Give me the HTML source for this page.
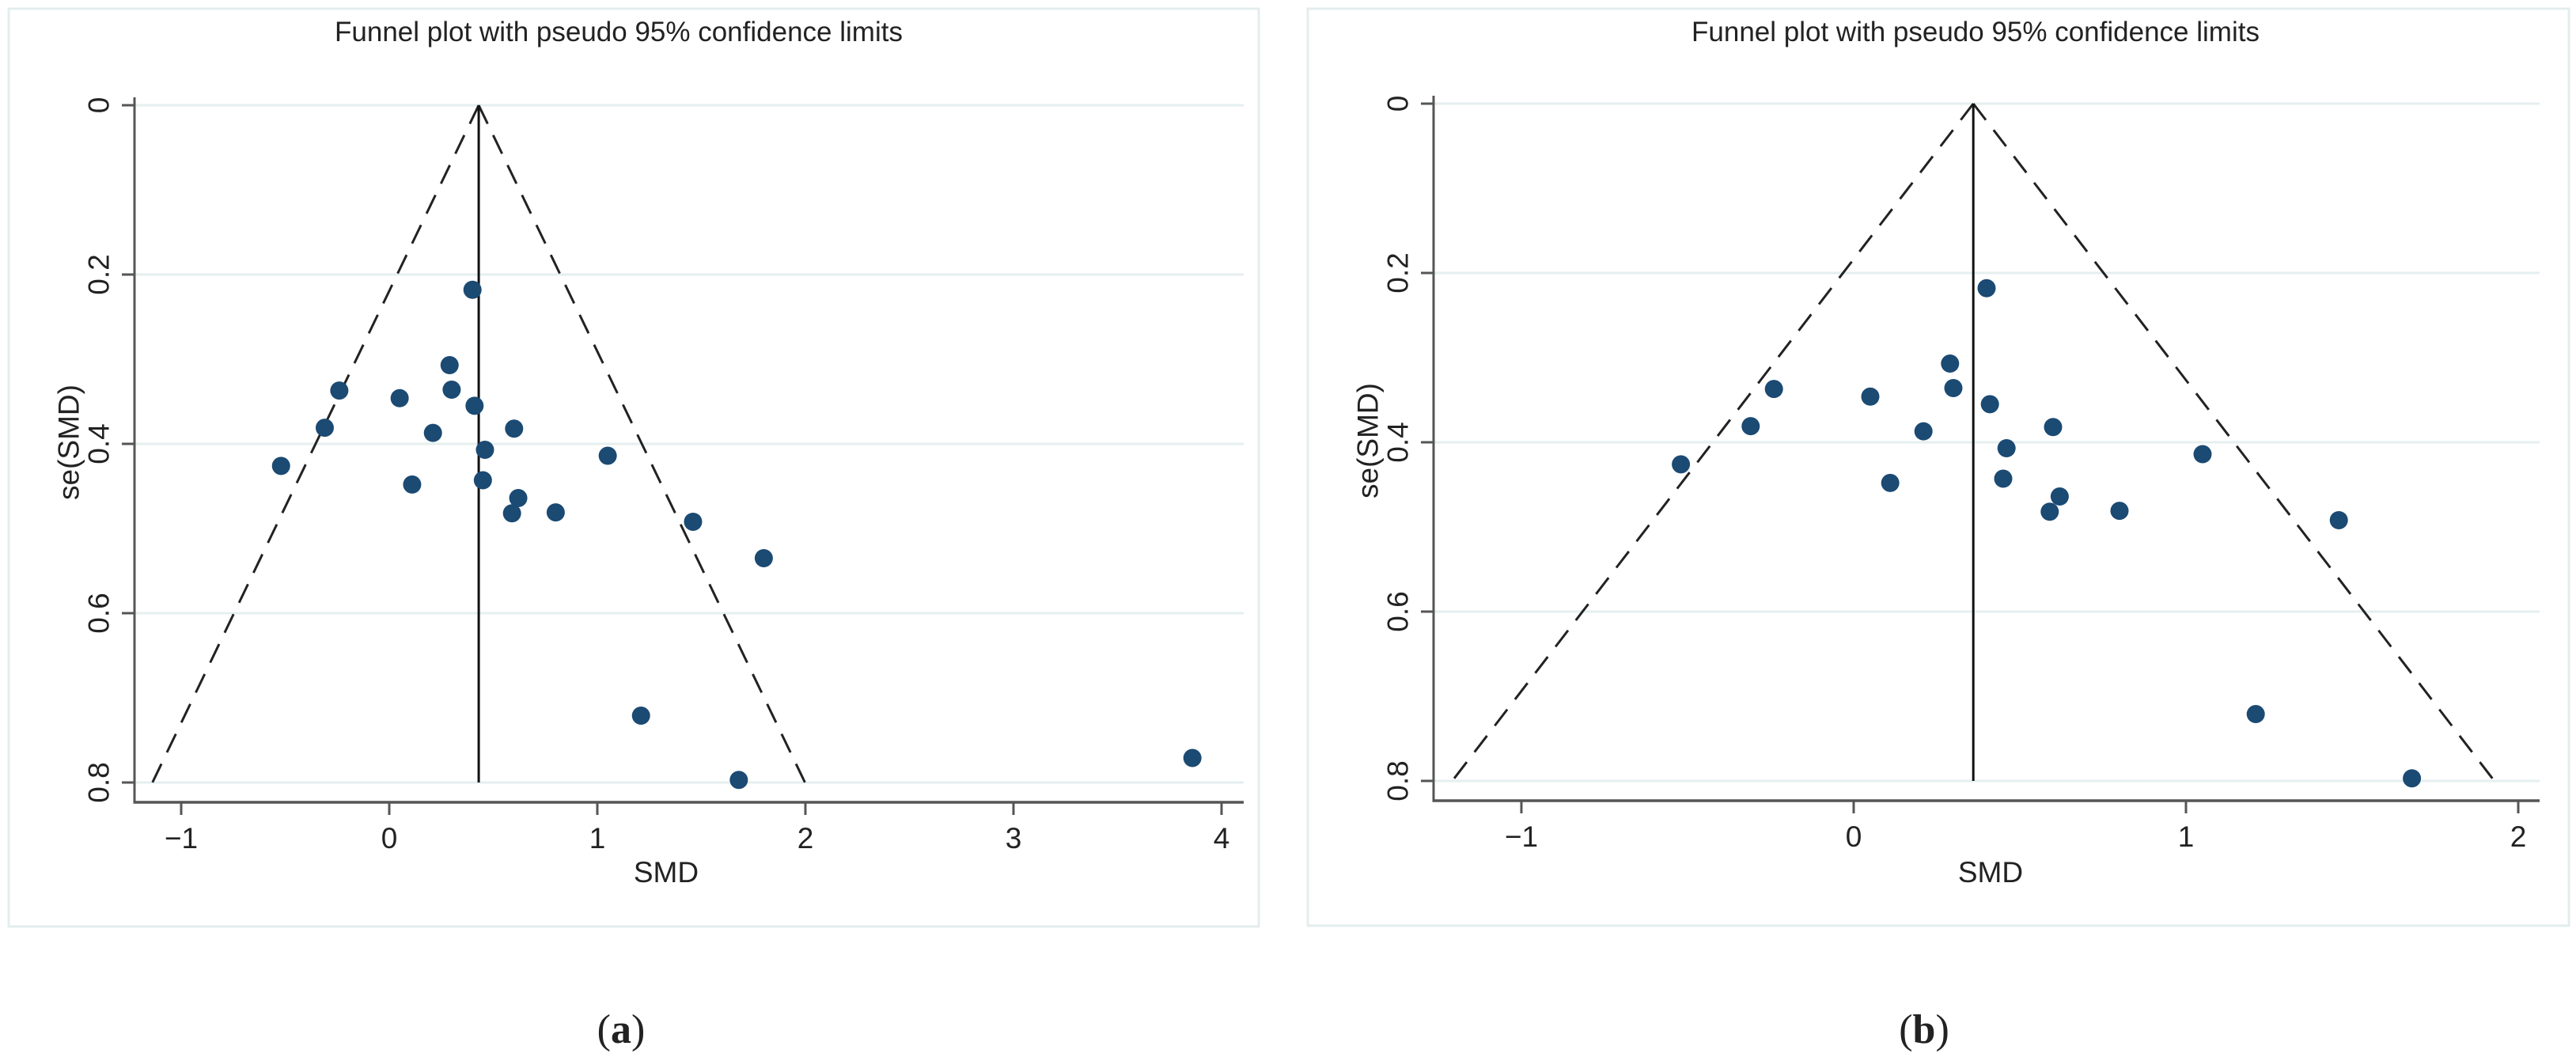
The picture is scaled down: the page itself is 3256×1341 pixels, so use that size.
<!DOCTYPE html>
<html><head><meta charset="utf-8">
<style>
html,body{margin:0;padding:0;background:#fff;}
svg{display:block;}
text{font-family:"Liberation Sans",Arial,sans-serif;fill:#222;}
</style></head>
<body>
<svg id="fig" width="3256" height="1341" viewBox="0 0 3256 1341" xmlns="http://www.w3.org/2000/svg">
<rect x="11" y="11" width="1580" height="1160" fill="none" stroke="#e3eded" stroke-width="3"/>
<rect x="1653" y="11" width="1594" height="1159" fill="none" stroke="#e3eded" stroke-width="3"/>
<text x="785" y="1318" text-anchor="middle" font-size="52" style="font-family:'Liberation Serif',serif">(<tspan font-weight="bold">a</tspan>)</text>
<text x="2432" y="1318" text-anchor="middle" font-size="52" style="font-family:'Liberation Serif',serif">(<tspan font-weight="bold">b</tspan>)</text>
</svg>
<script>
// Panel A data
const aSMD = [0.40,0.29,0.30,-0.24,0.05,0.41,-0.31,0.21,0.60,0.46,1.05,-0.52,0.11,0.45,0.62,0.59,0.80,1.46,1.80,1.21,1.68,3.86];
const aSE  = [0.218,0.307,0.336,0.337,0.346,0.355,0.381,0.387,0.382,0.407,0.414,0.426,0.448,0.443,0.464,0.482,0.481,0.492,0.535,0.721,0.797,0.771];
const aPooled = 0.43;
const aXTicks = [-1,0,1,2,3,4];
// Panel B data
const bSMD = [0.40,0.29,0.30,-0.24,0.05,0.41,-0.31,0.21,0.60,0.46,1.05,-0.52,0.11,0.45,0.62,0.59,0.80,1.46,1.21,1.68];
const bSE  = [0.218,0.307,0.336,0.337,0.346,0.355,0.381,0.387,0.382,0.407,0.414,0.426,0.448,0.443,0.464,0.482,0.481,0.492,0.721,0.797];
const bPooled = 0.36;
const bXTicks = [-1,0,1,2];
const yTicks = [0,0.2,0.4,0.6,0.8];
const yTickLabels = ["0","0.2","0.4","0.6","0.8"];

const NS="http://www.w3.org/2000/svg";
const svg=document.getElementById('fig');
function mk(tag,attrs,parent){const e=document.createElementNS(NS,tag);for(const k in attrs)e.setAttribute(k,attrs[k]);(parent||svg).appendChild(e);return e;}

function panel(p){
  const g=mk('g',{});
  
  
  const X=v=>p.x0+v*p.xs, Y=v=>p.y0+v*p.ys;
  yTicks.forEach((t,i)=>{
    const l=mk('line',{x1:p.axX,x2:p.axEnd,y1:Y(t),y2:Y(t),stroke:'#e6efef','stroke-width':3},g);
    
    
    const tk=mk('line',{x1:p.axX-16,x2:p.axX,y1:Y(t),y2:Y(t),stroke:'#555','stroke-width':3},g);
    
    
    const tx=p.axX-45, ty=Y(t);
    const lb=mk('text',{x:tx,y:ty,'font-size':37,'text-anchor':'middle','dominant-baseline':'central',transform:`rotate(-90 ${tx} ${ty})`},g);
    lb.textContent=yTickLabels[i];
    
    
  });
  const ya=mk('line',{x1:p.axX,x2:p.axX,y1:p.y0-10,y2:p.axY+1.5,stroke:'#555','stroke-width':3},g);
  
  
  const xa=mk('line',{x1:p.axX-1.5,x2:p.axEnd,y1:p.axY,y2:p.axY,stroke:'#555','stroke-width':3.5},g);
  
  
  p.xt.forEach(t=>{
    const tk=mk('line',{x1:X(t),x2:X(t),y1:p.axY,y2:p.axY+16,stroke:'#555','stroke-width':3},g);
    
    
    const lb=mk('text',{x:X(t),y:p.axY+58,'font-size':37,'text-anchor':'middle'},g);
    lb.textContent=(t<0?'\u2212':'')+Math.abs(t);
    
    
  });
  const lo=p.pooled-1.96*0.8, hi=p.pooled+1.96*0.8;
  const f1=mk('line',{x1:X(p.pooled),y1:Y(0),x2:X(lo),y2:Y(0.8),stroke:'#222','stroke-width':3,'stroke-dasharray':'26 16'},g);
  
  
  const f2=mk('line',{x1:X(p.pooled),y1:Y(0),x2:X(hi),y2:Y(0.8),stroke:'#222','stroke-width':3,'stroke-dasharray':'26 16'},g);
  
  
  const pl=mk('line',{x1:X(p.pooled),y1:Y(0),x2:X(p.pooled),y2:Y(0.8),stroke:'#111','stroke-width':3},g);
  
  
  p.smd.forEach((v,i)=>{
    const c=mk('circle',{cx:X(v),cy:Y(p.se[i]),r:11.5,fill:'#1b4a73'},g);
    
    
  });
  const tt=mk('text',{x:p.titleX,y:52,'font-size':35,'text-anchor':'middle'},g);
  tt.textContent='Funnel plot with pseudo 95% confidence limits';
  
  
  const xt=mk('text',{x:p.smdX,y:1115,'font-size':37,'text-anchor':'middle'},g);
  xt.textContent='SMD';
  
  
  const yx=p.axX-83, yy=Y(0.4)-2;
  const yt=mk('text',{x:yx,y:yy,'font-size':37,'text-anchor':'middle','dominant-baseline':'central',transform:`rotate(-90 ${yx} ${yy})`},g);
  yt.textContent='se(SMD)';
  
  
}
panel({id:'panel-a',x0:492,xs:263,y0:133,ys:1070,axX:170,axY:1014,axEnd:1572,xt:aXTicks,smd:aSMD,se:aSE,pooled:aPooled,titleX:782,smdX:842});
panel({id:'panel-b',x0:2343,xs:420,y0:131,ys:1070,axX:1812,axY:1012,axEnd:3210,xt:bXTicks,smd:bSMD,se:bSE,pooled:bPooled,titleX:2497,smdX:2516});
</script>
</body></html>
